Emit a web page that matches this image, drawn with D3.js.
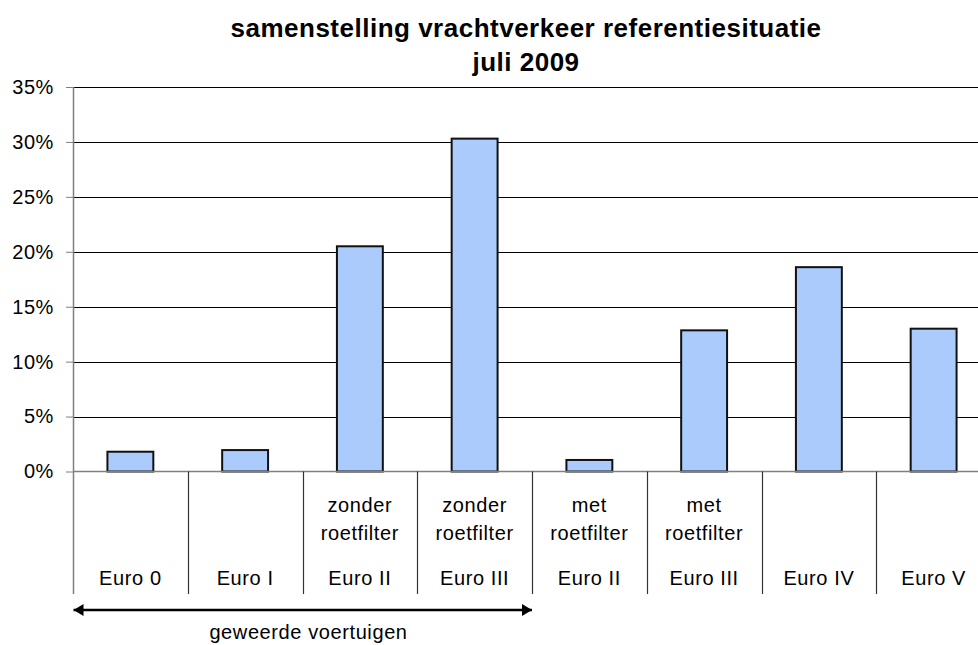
<!DOCTYPE html>
<html>
<head>
<meta charset="utf-8">
<script src="https://cdn.jsdelivr.net/npm/d3@7"></script>
<style>
  body { margin: 0; background: #fff; }
  text { font-family: "Liberation Sans", Arial, sans-serif; fill: #000; }
</style>
</head>
<body>
<div id="chart"></div>
<script>
// data
const categories = ["Euro 0", "Euro I", "Euro II", "Euro III", "Euro II", "Euro III", "Euro IV", "Euro V"];
const topLabels = ["", "", "zonder", "zonder", "met", "met", "", ""];
const midLabels = ["", "", "roetfilter", "roetfilter", "roetfilter", "roetfilter", "", ""];
const shares = [0.018, 0.0195, 0.205, 0.303, 0.0105, 0.1285, 0.186, 0.13];
const yTicks = [0, 0.05, 0.10, 0.15, 0.20, 0.25, 0.30, 0.35];
const titleLines = ["samenstelling vrachtverkeer referentiesituatie", "juli 2009"];
const bannedGroup = { from: 0, to: 3, label: "geweerde voertuigen" };

const width = 978, height = 645;
const plotLeft = 73, plotRight = 991, plotTop = 87, base = 471.5;

const svg = d3.select("#chart")
    .append("svg")
    .attr("width", width)
    .attr("height", height);

const idx = categories.map((d, i) => i);

const x = d3.scaleBand()
    .domain(idx)
    .range([plotLeft, plotRight])
    .paddingInner(0.6)
    .paddingOuter(0.3);

const y = d3.scaleLinear()
    .domain([0, 0.35])
    .range([base, plotTop]);

// gridlines
svg.append("g")
    .selectAll("line")
    .data(yTicks.filter(t => t > 0))
    .join("line")
    .attr("x1", plotLeft)
    .attr("x2", plotRight)
    .attr("y1", d => Math.round(y(d)) + 0.5)
    .attr("y2", d => Math.round(y(d)) + 0.5)
    .attr("stroke", "#000")
    .attr("stroke-width", 1);

// y axis
const yAxis = svg.append("g")
    .attr("transform", `translate(${plotLeft},0)`)
    .call(d3.axisLeft(y).tickValues(yTicks).tickFormat(d3.format(".0%")).tickSize(7).tickPadding(12));
yAxis.select(".domain").remove();
yAxis.selectAll(".tick line").attr("stroke", "#808080");
yAxis.selectAll("text")
    .style("font-size", "20px")
    .style("letter-spacing", "0.6px")
    .attr("fill", "#000");

// bars
svg.append("g")
    .selectAll("rect")
    .data(shares)
    .join("rect")
    .attr("x", (d, i) => x(i))
    .attr("y", d => y(d))
    .attr("width", x.bandwidth())
    .attr("height", d => base - y(d))
    .attr("fill", "#abcbfd")
    .attr("stroke", "#111")
    .attr("stroke-width", 2);

// axis lines
const bottom = 594;
svg.append("line")
    .attr("x1", plotLeft + 0.5).attr("x2", plotLeft + 0.5)
    .attr("y1", plotTop).attr("y2", bottom)
    .attr("stroke", "#808080").attr("stroke-width", 1.5);
svg.append("line")
    .attr("x1", plotLeft).attr("x2", plotRight)
    .attr("y1", base).attr("y2", base)
    .attr("stroke", "#808080").attr("stroke-width", 1.5);

// category dividers
svg.append("g")
    .selectAll("line")
    .data(d3.range(1, categories.length + 1))
    .join("line")
    .attr("x1", i => Math.round(plotLeft + i * x.step()) + 0.5)
    .attr("x2", i => Math.round(plotLeft + i * x.step()) + 0.5)
    .attr("y1", base)
    .attr("y2", bottom)
    .attr("stroke", "#333")
    .attr("stroke-width", 1.2);

// category labels (three rows)
const labelRows = [
    { texts: topLabels, y: 512 },
    { texts: midLabels, y: 540 },
    { texts: categories, y: 585 }
];
labelRows.forEach(row => {
    svg.append("g")
        .selectAll("text")
        .data(row.texts)
        .join("text")
        .attr("x", (d, i) => x(i) + x.bandwidth() / 2)
        .attr("y", row.y)
        .attr("text-anchor", "middle")
        .style("font-size", "20px")
        .style("letter-spacing", "0.6px")
        .text(d => d);
});

// double arrow under the banned categories
const defs = svg.append("defs");
defs.append("marker")
    .attr("id", "head")
    .attr("viewBox", "0 0 10 12")
    .attr("refX", 10).attr("refY", 6)
    .attr("markerWidth", 10).attr("markerHeight", 12)
    .attr("markerUnits", "userSpaceOnUse")
    .attr("orient", "auto-start-reverse")
    .append("path")
    .attr("d", "M0,0L10,6L0,12Z")
    .attr("fill", "#000");

const ax0 = plotLeft + bannedGroup.from * x.step();
const ax1 = plotLeft + (bannedGroup.to + 1) * x.step();
svg.append("line")
    .attr("x1", ax0 + 0.5).attr("x2", ax1)
    .attr("y1", 610).attr("y2", 610)
    .attr("stroke", "#000").attr("stroke-width", 2.5)
    .attr("marker-start", "url(#head)")
    .attr("marker-end", "url(#head)");

svg.append("text")
    .attr("x", (ax0 + ax1) / 2 + 6)
    .attr("y", 639)
    .attr("text-anchor", "middle")
    .style("font-size", "20px")
    .style("letter-spacing", "0.6px")
    .text(bannedGroup.label);

// title
svg.append("g")
    .selectAll("text")
    .data(titleLines)
    .join("text")
    .attr("x", 526)
    .attr("y", (d, i) => 37 + i * 34)
    .attr("text-anchor", "middle")
    .style("font-size", "26px")
    .style("font-weight", "bold")
    .style("letter-spacing", "0.5px")
    .text(d => d);
</script>
</body>
</html>
